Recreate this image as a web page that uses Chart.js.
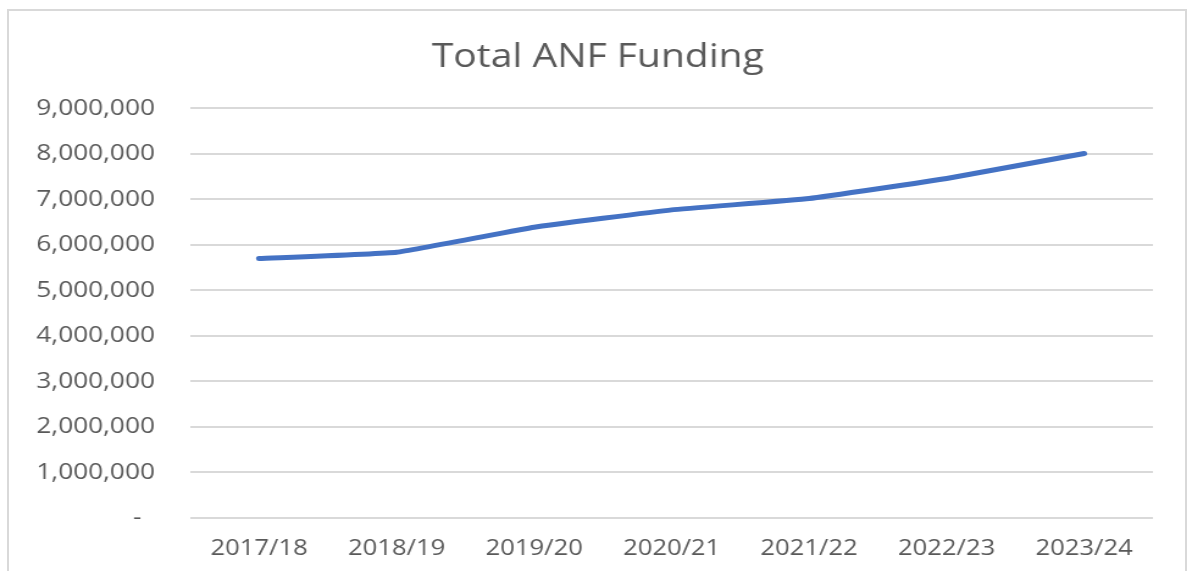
<!DOCTYPE html>
<html><head><meta charset="utf-8">
<script src="https://cdn.jsdelivr.net/npm/chart.js@4"></script>
<style>
html,body{margin:0;padding:0;background:#fff;overflow:hidden;width:1187px;height:571px;}
#frame{position:absolute;left:7px;top:9px;width:1180px;height:562px;border:2px solid #d9d9d9;border-bottom:none;box-sizing:border-box;}
#wrap{position:absolute;left:0;top:0;width:973px;height:571px;transform:scaleX(1.22);transform-origin:0 0;}
#c{display:block;}
</style></head><body>
<div id="frame"></div>
<div id="wrap"><canvas id="c" width="973" height="571"></canvas></div>
<script>
const categories = ['2017/18','2018/19','2019/20','2020/21','2021/22','2022/23','2023/24'];
const totalFunding = [5700000, 5840000, 6390000, 6770000, 7020000, 7460000, 8010000];
const yMin = 0, yMax = 9000000, yStep = 1000000;
const chartTitle = 'Total ANF Funding';

const FONT = "'Open Sans', sans-serif";
const GREY = '#595959';

new Chart(document.getElementById('c'), {
  type: 'line',
  data: {
    labels: categories,
    datasets: [{
      label: chartTitle,
      data: totalFunding,
      borderColor: '#4472C4',
      backgroundColor: '#4472C4',
      borderWidth: 5,
      borderCapStyle: 'round',
      borderJoinStyle: 'round',
      pointRadius: 0,
      tension: 0.1,
      fill: false,
      yAxisID: 'y'
    }]
  },
  options: {
    responsive: false,
    maintainAspectRatio: false,
    animation: false,
    devicePixelRatio: 1,
    layout: { padding: { left: 7, right: 0, top: 0, bottom: 11 } },
    plugins: {
      legend: { display: false },
      tooltip: { enabled: false },
      title: {
        display: true,
        text: chartTitle,
        color: GREY,
        font: { family: FONT, size: 32, weight: 'normal', lineHeight: 1.2 },
        padding: { top: 39, bottom: 31 }
      }
    },
    scales: {
      x: {
        offset: true,
        afterFit: (s) => { s.height = 42; },
        grid: { display: false, drawTicks: false },
        border: { display: false },
        ticks: { color: GREY, font: { family: FONT, size: 21 }, padding: 18, maxRotation: 0 }
      },
      y: {
        min: yMin, max: yMax,
        afterFit: (s) => { s.width = 149; },
        grid: { color: '#d9d9d9', lineWidth: 2, drawTicks: false },
        border: { display: false },
        ticks: {
          stepSize: yStep,
          color: GREY,
          font: { family: FONT, size: 21.5 },
          padding: 29,
          callback: (v) => v === 0 ? '-  ' : v.toLocaleString('en-US')
        }
      },
      yRight: {
        position: 'right',
        display: true,
        min: yMin, max: yMax,
        afterFit: (s) => { s.width = 28; },
        grid: { display: false, drawTicks: false },
        border: { display: false },
        ticks: { display: false }
      }
    }
  }
});
</script>
</body></html>
